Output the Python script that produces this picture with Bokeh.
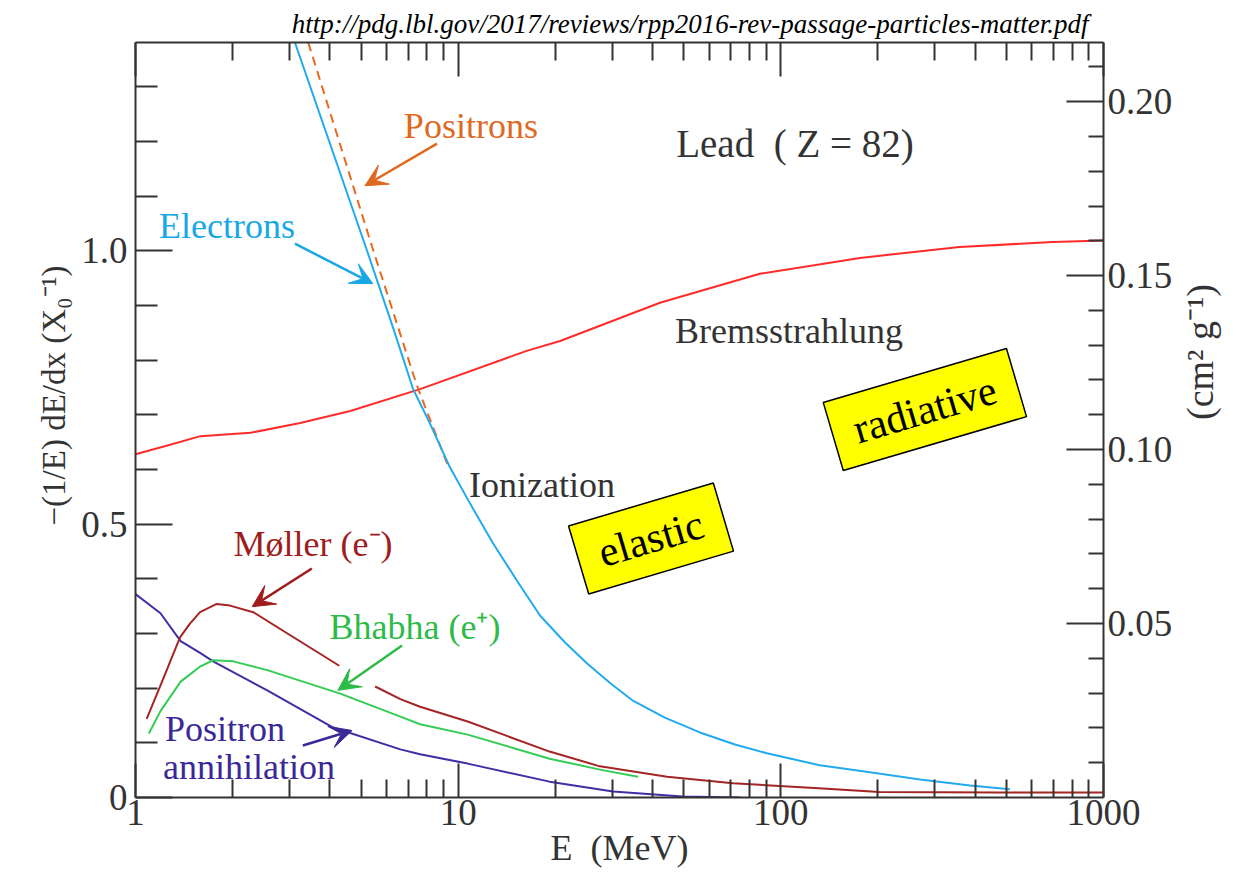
import numpy as np
from bokeh.plotting import figure
from bokeh.models import (LogAxis, LinearAxis, Range1d, FixedTicker, Label, Arrow,
                          VeeHead, NumeralTickFormatter, Title)
from bokeh.embed import file_html
from bokeh.resources import INLINE

# ---------------- data ----------------
brems_E = [1.0, 1.24, 1.59, 2.27, 3.24, 4.63, 7.62, 16.3, 20.7, 42.2, 86.1, 176, 358, 695, 1000]
brems_y = [0.628, 0.643, 0.661, 0.667, 0.685, 0.707, 0.747, 0.817, 0.835, 0.905, 0.958, 0.987, 1.007, 1.016, 1.019]

electron_E = [3.12, 5.22, 6.28, 7.24, 8.18, 9.43, 10.88, 12.82, 15.2, 17.93, 21.4, 25.1, 29.5, 34.8,
              43.7, 56.1, 72.1, 90.5, 132, 189, 270, 386, 513]
electron_y = [1.381, 1.0, 0.860, 0.748, 0.684, 0.604, 0.538, 0.465, 0.397, 0.333, 0.284, 0.245, 0.210, 0.177,
              0.146, 0.119, 0.097, 0.081, 0.059, 0.046, 0.033, 0.022, 0.015]

positron_E = [3.43, 5.46, 7.25, 7.52, 9.31]
positron_y = [1.381, 1.0, 0.775, 0.747, 0.606]

moller_E = [1.083, 1.191, 1.374, 1.475, 1.585, 1.785, 1.963, 2.317, 4.28, float("nan"),
            5.53, 6.62, 7.62, 10.7, 19.2, 27.5, 44.4, 71.1, 131, 202, 475, 1000]
moller_y = [0.144, 0.203, 0.293, 0.318, 0.339, 0.354, 0.351, 0.339, 0.241, float("nan"),
            0.203, 0.180, 0.166, 0.139, 0.084, 0.057, 0.038, 0.026, 0.017, 0.010, 0.009, 0.009]

bhabha_E = [1.10, 1.195, 1.38, 1.59, 1.74, 2.01, 2.56, 4.31, 6.62, 7.62, 10.7, 19.2, 27.5, 36.1]
bhabha_y = [0.117, 0.158, 0.212, 0.240, 0.251, 0.249, 0.233, 0.190, 0.148, 0.134, 0.115, 0.071, 0.051, 0.038]

annih_E = [1.0, 1.195, 1.38, 1.59, 1.74, 2.56, 4.1, 6.62, 7.62, 10.7, 19.2, 30.2, 49.6, 75.0]
annih_y = [0.372, 0.337, 0.286, 0.264, 0.249, 0.196, 0.128, 0.088, 0.079, 0.062, 0.029, 0.011, 0.002, 0.0]

x_major = [1, 10, 100, 1000]
x_minor = [2, 3, 4, 5, 6, 7, 8, 9, 20, 30, 40, 50, 60, 70, 80, 90, 200, 300, 400, 500, 600, 700, 800, 900]
x_labels = ["1", "10", "100", "1000"]
y_major = [0, 0.5, 1.0]
y_minor = [0.1, 0.2, 0.3, 0.4, 0.6, 0.7, 0.8, 0.9, 1.1, 1.2, 1.3]
y_labels = ["0", "0.5", "1.0"]
r_major = [0.05, 0.10, 0.15, 0.20]
r_minor = [0.01, 0.02, 0.03, 0.04, 0.06, 0.07, 0.08, 0.09, 0.11, 0.12, 0.13, 0.14,
           0.16, 0.17, 0.18, 0.19, 0.21]

FONT = "Liberation Serif"
AX = "#333333"
URL = "http://pdg.lbl.gov/2017/reviews/rpp2016-rev-passage-particles-matter.pdf"

p = figure(width=1248, height=878, x_axis_type="log",
           x_range=Range1d(1, 1000), y_range=Range1d(0, 1.381),
           output_backend="svg", toolbar_location=None,
           min_border_left=135, min_border_right=145, min_border_top=42, min_border_bottom=81,
           background_fill_color="white", border_fill_color="white")
p.grid.visible = False
p.outline_line_color = None
p.extra_y_ranges = {"right": Range1d(0, 0.2170)}

p.title.text = URL
p.title.text_font = FONT
p.title.text_font_style = "italic"
p.title.text_font_size = "27px"
p.title.text_color = "black"
p.title.align = "right"
p.title.offset = 15
p.title.standoff = 8


def style(ax, tin, mtin, size="37px"):
    ax.axis_line_color = AX
    ax.axis_line_width = 2
    ax.major_tick_line_color = AX
    ax.major_tick_line_width = 2
    ax.minor_tick_line_color = AX
    ax.minor_tick_line_width = 2
    ax.major_tick_in = tin
    ax.major_tick_out = 0
    ax.minor_tick_in = mtin
    ax.minor_tick_out = 0
    ax.major_label_text_font = FONT
    ax.major_label_text_font_size = size
    ax.major_label_text_color = AX
    ax.axis_label_text_font = FONT
    ax.axis_label_text_font_style = "normal"
    ax.axis_label_text_color = AX


xb = p.xaxis[0]
xb.ticker = FixedTicker(ticks=x_major, minor_ticks=x_minor)
xb.major_label_overrides = {float(t): s for t, s in zip(x_major, x_labels)}
xb.major_label_standoff = 2
style(xb, 34, 18)
xb.axis_label = "E\u00a0\u00a0(MeV)"
xb.axis_label_text_font_size = "36px"
xb.axis_label_standoff = 0

yl = p.yaxis[0]
yl.ticker = FixedTicker(ticks=y_major, minor_ticks=y_minor)
yl.major_label_overrides = {float(t): s for t, s in zip(y_major, y_labels)}
yl.major_label_standoff = 8
style(yl, 37, 22)

xt = LogAxis(ticker=FixedTicker(ticks=x_major, minor_ticks=x_minor))
style(xt, 34, 18, size="1px")
xt.major_label_overrides = {float(t): " " for t in x_major}
xt.major_label_text_alpha = 0
xt.major_label_standoff = 0
p.add_layout(xt, "above")

yr = LinearAxis(y_range_name="right", ticker=FixedTicker(ticks=r_major, minor_ticks=r_minor),
                formatter=NumeralTickFormatter(format="0.00"))
yr.major_label_standoff = 4
style(yr, 37, 15)
yr.axis_label = "(cm\u00b2 g\u207b\u00b9)"
yr.axis_label_text_font_size = "38px"
yr.axis_label_standoff = 25
if hasattr(yr, "axis_label_orientation"):
    yr.axis_label_orientation = np.pi / 2
p.add_layout(yr, "right")

# left axis title (rotated, reads bottom to top)
ytitle = Title(text="\u2212(1/E)\u00a0dE/dx\u00a0(X\u2080\u207b\u00b9)", text_font=FONT,
               text_font_size="33px", text_font_style="normal", text_color=AX,
               align="left", offset=272, standoff=14)
p.add_layout(ytitle, "left")

# ---------------- curves ----------------
p.line(brems_E, brems_y, line_color="#ff2a2a", line_width=2)
p.line(annih_E, annih_y, line_color="#3d2fa5", line_width=2)
p.line(bhabha_E, bhabha_y, line_color="#33cc55", line_width=2)
p.line(moller_E, moller_y, line_color="#a52424", line_width=2)
p.line(positron_E, positron_y, line_color="#e8691e", line_width=2, line_dash="9 6")
p.line(electron_E, electron_y, line_color="#22aaee", line_width=2)

# ---------------- annotation boxes ----------------
p.rect(x=[39.6], y=[0.4737], width=151, height=71, width_units="screen", height_units="screen",
       angle=np.deg2rad(16.5), fill_color="#ffff00", line_color="black", line_width=1.5)
p.rect(x=[279.5], y=[0.7097], width=191, height=71, width_units="screen", height_units="screen",
       angle=np.deg2rad(16.4), fill_color="#ffff00", line_color="black", line_width=1.5)


def lab(x, y, text, color, size="36px", align="center", angle=0.0, style_="normal"):
    p.add_layout(Label(x=x, y=y, text=text, text_font=FONT, text_font_size=size,
                       text_color=color, text_align=align, text_baseline="middle",
                       angle=angle, text_font_style=style_))


def arrow(x0, y0, x1, y1, color):
    p.add_layout(Arrow(x_start=x0, y_start=y0, x_end=x1, y_end=y1, line_color=color, line_width=2.5,
                       end=VeeHead(size=22, fill_color=color, line_color=color)))


lab(39.6, 0.4737, "elastic", "black", size="42px", angle=np.deg2rad(16.5))
lab(279.5, 0.7097, "radiative", "black", size="42px", angle=np.deg2rad(16.4))

lab(10.95, 1.229, "Positrons", "#e0691f")
arrow(8.60, 1.196, 5.14, 1.119, "#e0691f")
lab(1.92, 1.0445, "Electrons", "#1aa7e6")
arrow(3.12, 1.013, 5.44, 0.940, "#1aa7e6")
lab(110.6, 1.196, "Lead\u00a0\u00a0(\u00a0Z = 82)", AX, size="39px")
lab(106, 0.854, "Bremsstrahlung", AX)
lab(18.2, 0.5725, "Ionization", AX)
lab(3.55, 0.4646, "M\u00f8ller (e\u207b)", "#a01c1c")
arrow(3.52, 0.419, 2.30, 0.349, "#a01c1c")
lab(7.35, 0.311, "Bhabha (e\u207a)", "#2dbb48")
arrow(6.70, 0.278, 4.24, 0.196, "#2dbb48")
lab(1.234, 0.1244, "Positron", "#3a2899", align="left")
lab(1.217, 0.0567, "annihilation", "#3a2899", align="left")
arrow(3.30, 0.0951, 4.69, 0.1226, "#3a2899")

open("out.html", "w").write(file_html(p, INLINE))
